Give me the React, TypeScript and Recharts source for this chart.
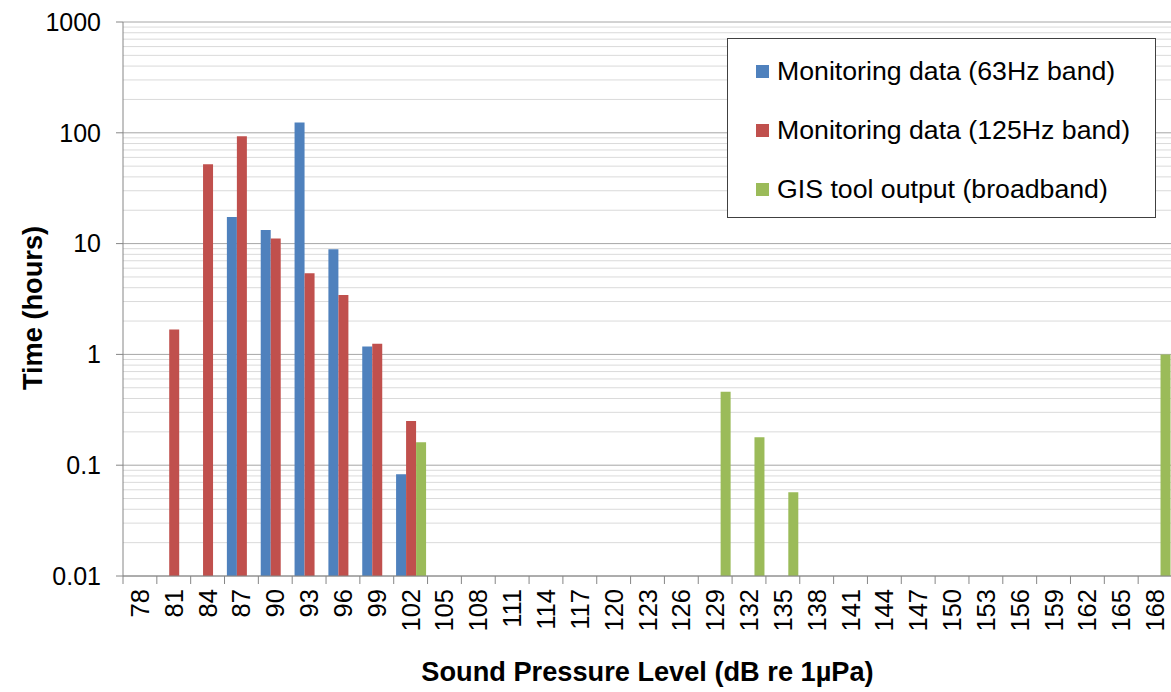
import React from 'react';
import { BarChart, Bar, XAxis, YAxis, CartesianGrid, Legend } from 'recharts';

// Sound pressure level bins (dB re 1µPa)
const splLevels = [78, 81, 84, 87, 90, 93, 96, 99, 102, 105, 108, 111, 114, 117, 120, 123, 126, 129, 132, 135, 138, 141, 144, 147, 150, 153, 156, 159, 162, 165, 168];

// hours spent in each bin, null = no bar
const monitoring63Hz = [null, null, null, 17.4, 13.3, 124, 8.9, 1.18, 0.083, null, null, null, null, null, null, null, null, null, null, null, null, null, null, null, null, null, null, null, null, null, null];
const monitoring125Hz = [null, 1.68, 52, 93, 11.1, 5.4, 3.44, 1.25, 0.25, null, null, null, null, null, null, null, null, null, null, null, null, null, null, null, null, null, null, null, null, null, null];
const gisOutput = [null, null, null, null, null, null, null, null, 0.161, null, null, null, null, null, null, null, null, 0.46, 0.179, 0.057, null, null, null, null, null, null, null, null, null, null, 1.0];

const seriesNames = ['Monitoring data (63Hz band)', 'Monitoring data (125Hz band)', 'GIS tool output (broadband)'];

const majorTicks = [0.01, 0.1, 1, 10, 100, 1000];
const minorTicks = [0.01, 0.1, 1, 10, 100].flatMap((d) => [2, 3, 4, 5, 6, 7, 8, 9].map((m) => +(d * m).toPrecision(2)));

const data = splLevels.map((spl, i) => ({
  spl: String(spl),
  m63: monitoring63Hz[i],
  m125: monitoring125Hz[i],
  gis: gisOutput[i],
}));

const AXIS_GREY = '#868686';

// minor log gridlines (2..9 x each decade), placed with the y axis scale
function minorGridLines({ yAxis }: any) {
  const s = yAxis?.scale;
  if (s == null) return [];
  if (typeof s === 'function') return minorTicks.map((v) => s(v));
  if (typeof s.map === 'function') return minorTicks.map((v) => s.map(v));
  return [];
}

function SplTick(props: any) {
  const { x, y, payload } = props;
  const edge = x - (payload.offset ?? 0);
  const ty = y + 13;
  return (
    <g>
      <line x1={edge} x2={edge} y1={y} y2={y + 8} stroke={AXIS_GREY} />
      <text
        x={x}
        y={ty}
        transform={`rotate(-90 ${x} ${ty})`}
        textAnchor="end"
        dominantBaseline="central"
        fontSize={25.5}
        fill="#000"
      >
        {payload.value}
      </text>
    </g>
  );
}

function LegendBox({ payload }: any) {
  const items = [...(payload || [])].sort(
    (a: any, b: any) => seriesNames.indexOf(a.value) - seriesNames.indexOf(b.value)
  );
  return (
    <div
      style={{
        boxSizing: 'border-box',
        width: 429,
        height: 180,
        border: '1px solid #404040',
        background: '#fff',
        position: 'relative',
      }}
    >
      {items.map((entry: any, i: number) => (
        <div
          key={entry.value}
          style={{
            position: 'absolute',
            left: 28,
            top: 16 + i * 59,
            height: 32,
            display: 'flex',
            alignItems: 'center',
            whiteSpace: 'nowrap',
          }}
        >
          <span style={{ display: 'inline-block', width: 13, height: 13, background: entry.color, marginRight: 8 }} />
          <span style={{ fontSize: 26.7, color: '#000', lineHeight: '32px' }}>{entry.value}</span>
        </div>
      ))}
    </div>
  );
}

export default function App() {
  return (
    <div
      style={{
        position: 'fixed',
        left: 0,
        top: 0,
        width: 1171,
        height: 692,
        overflow: 'hidden',
        background: '#fff',
        fontFamily: "Arial, 'Liberation Sans', sans-serif",
      }}
    >
      <BarChart
        width={1180}
        height={692}
        data={data}
        margin={{ top: 22, right: 8, bottom: 0, left: 0 }}
        barCategoryGap="7%"
        barGap={0}
      >
        <CartesianGrid
          yAxisId="main"
          vertical={false}
          stroke="#dadada"
          horizontalCoordinatesGenerator={minorGridLines}
        />
        <CartesianGrid yAxisId="main" vertical={false} stroke="#a6a6a6" />
        <XAxis
          dataKey="spl"
          interval={0}
          height={116}
          tickSize={0}
          tickMargin={0}
          tickLine={false}
          axisLine={{ stroke: AXIS_GREY }}
          tick={<SplTick />}
          label={(p: any) => {
            const vb = p.viewBox;
            return (
              <text x={vb.x + vb.width / 2} y={vb.y + 105} textAnchor="middle" fontSize={27.2} fontWeight="bold" fill="#000">
                Sound Pressure Level (dB re 1µPa)
              </text>
            );
          }}
        />
        <YAxis
          yAxisId="main"
          type="number"
          scale="log"
          domain={[0.01, 1000]}
          allowDataOverflow
          ticks={majorTicks}
          width={123}
          tickSize={7}
          tickMargin={15}
          tick={{ fontSize: 25, fill: '#000' }}
          tickLine={{ stroke: AXIS_GREY }}
          axisLine={{ stroke: AXIS_GREY }}
          tickFormatter={(v: number) => String(v)}
          label={(p: any) => {
            const vb = p.viewBox;
            const cx = vb.x + 32;
            const cy = vb.y + vb.height / 2 + 9;
            return (
              <text
                x={cx}
                y={cy}
                transform={`rotate(-90 ${cx} ${cy})`}
                textAnchor="middle"
                dominantBaseline="central"
                fontSize={27.2}
                fontWeight="bold"
                fill="#000"
              >
                Time (hours)
              </text>
            );
          }}
        />
        <Legend
          layout="vertical"
          align="center"
          verticalAlign="middle"
          wrapperStyle={{ left: 727, top: 38, width: 429, height: 180 }}
          content={(p: any) => <LegendBox payload={p.payload} />}
        />
        <Bar yAxisId="main" dataKey="m63" name={seriesNames[0]} fill="#4F81BD" isAnimationActive={false} />
        <Bar yAxisId="main" dataKey="m125" name={seriesNames[1]} fill="#C0504D" isAnimationActive={false} />
        <Bar yAxisId="main" dataKey="gis" name={seriesNames[2]} fill="#9BBB59" isAnimationActive={false} />
      </BarChart>
    </div>
  );
}
